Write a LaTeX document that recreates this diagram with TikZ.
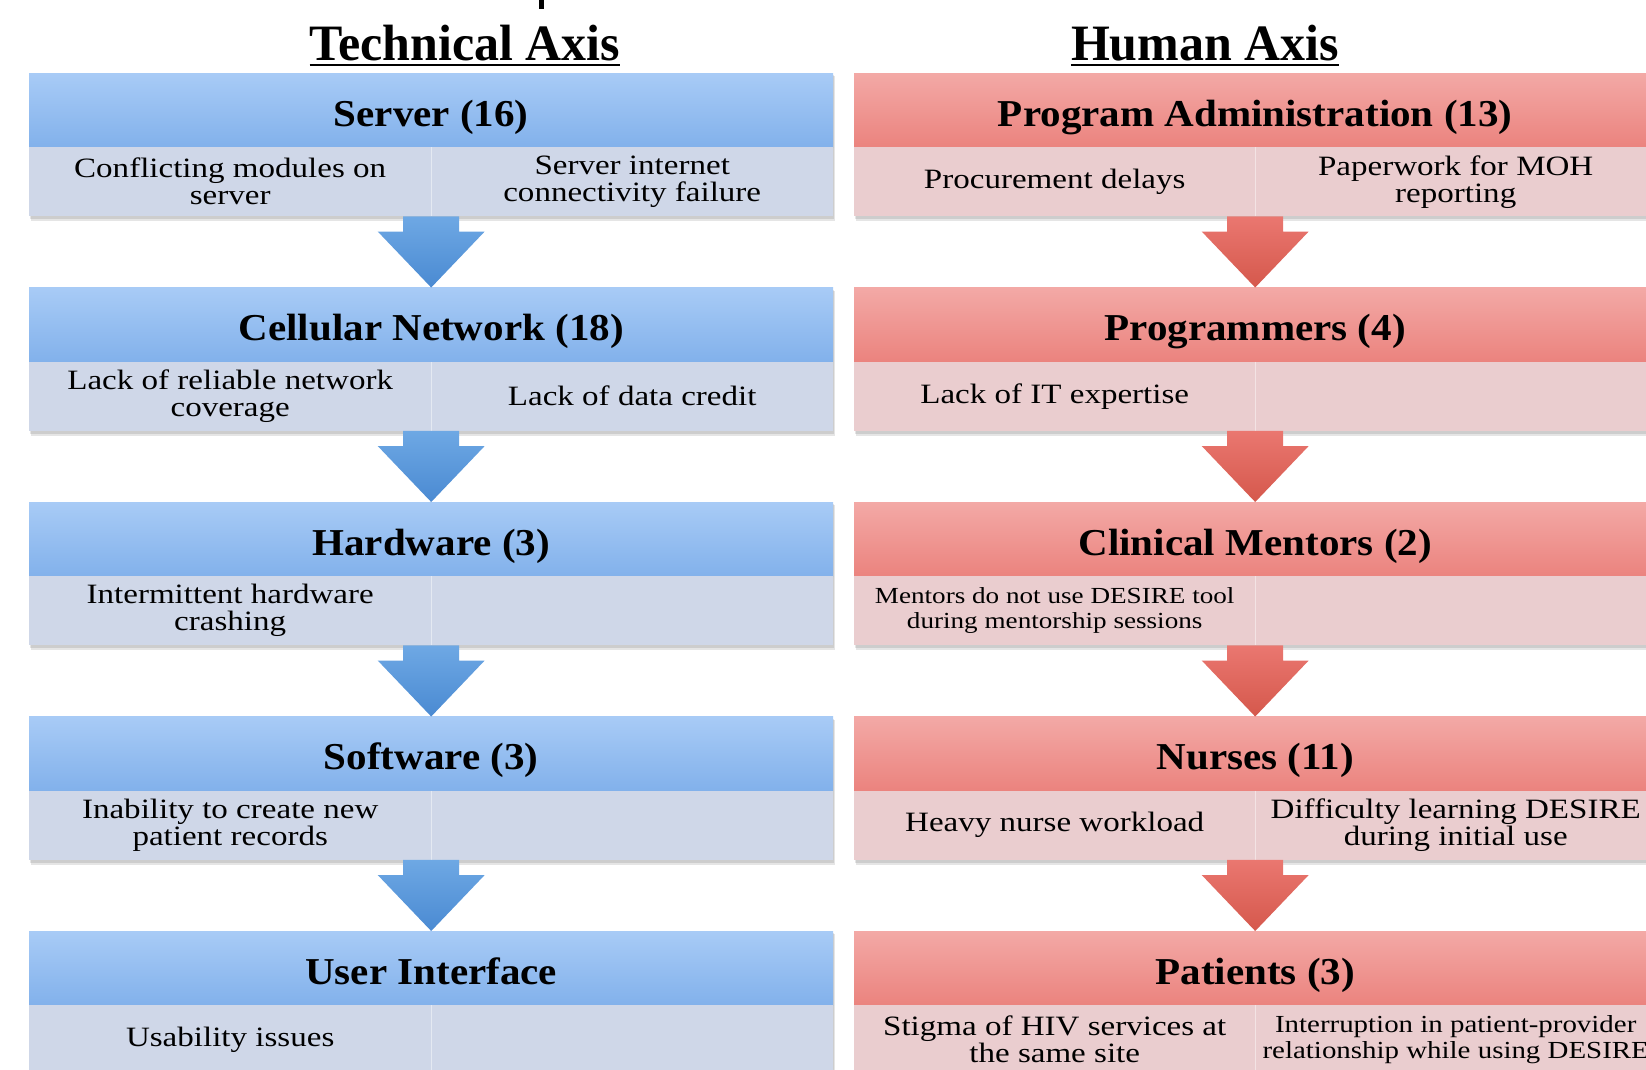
\documentclass[tikz,border=0pt]{standalone}
\usepackage{fontspec}
\setmainfont{Liberation Serif}
\newfontfamily\bodyface[FakeStretch=1.18]{Liberation Serif}
\newfontfamily\headface[FakeStretch=1.08]{Liberation Serif}
\newfontfamily\titleface[FakeStretch=0.98]{Liberation Serif}
\usetikzlibrary{calc}

\definecolor{techTop}{HTML}{A8CBF6}
\definecolor{techBot}{HTML}{82B1EB}
\definecolor{techBody}{HTML}{CFD7E8}
\definecolor{humTop}{HTML}{F3A9A6}
\definecolor{humBot}{HTML}{EB837E}
\definecolor{humBody}{HTML}{EACDCF}
\definecolor{techArrTop}{HTML}{6EA8E4}
\definecolor{techArrBot}{HTML}{4A8AD2}
\definecolor{humArrTop}{HTML}{EA7770}
\definecolor{humArrBot}{HTML}{D5584C}

\tikzset{
  axistitle/.style={inner sep=0pt, anchor=base, font=\titleface\bfseries\fontsize{51}{55}\selectfont},
  headbox/.style={rectangle, inner sep=0pt, anchor=north west,
    minimum height=74pt, text height=36pt, text depth=4pt,
    font=\headface\bfseries\fontsize{38}{40}\selectfont},
  techhead/.style={headbox, minimum width=804pt, top color=techTop, bottom color=techBot},
  humhead/.style={headbox, minimum width=802pt, top color=humTop, bottom color=humBot},
  cellbox/.style={rectangle, inner sep=0pt, anchor=north west, minimum height=69pt,
    align=center, font=\bodyface\fontsize{28}{27}\selectfont},
  techcell/.style={cellbox, minimum width=402pt, fill=techBody},
  humcell/.style={cellbox, minimum width=401pt, fill=humBody},
  smalltext/.style={font=\bodyface\fontsize{23}{25}\selectfont},
  smallertext/.style={font=\bodyface\fontsize{24.5}{26}\selectfont},
  divider/.style={white, opacity=.45, line width=1.5pt},
  techarrow/.style={top color=techArrTop, bottom color=techArrBot},
  humarrow/.style={top color=humArrTop, bottom color=humArrBot},
}

% soft shadow under a box: left x, right x, top y
\newcommand\boxshadow[3]{%
  \fill[black,opacity=.10] (#1+1,#3+2) rectangle (#2+1,#3+146);
  \fill[black,opacity=.10] (#1+2,#3+3) rectangle (#2+2,#3+148);}

% block arrow from the bottom of one box to the top of the next
\newcommand\flowarrow[3]{%
  \path[#3] let \p1=(#1.south), \p2=(#2.north) in
    (\x2-28pt,\y1) -- (\x2+28pt,\y1) -- (\x2+28pt,\y2+56pt) -- (\x2+53.5pt,\y2+56pt)
    -- (\x2,\y2) -- (\x2-53.5pt,\y2+56pt) -- (\x2-28pt,\y2+56pt) -- cycle;}

\begin{document}
\begin{tikzpicture}[x=1pt,y=-1pt]
\useasboundingbox (0,0) rectangle (1646,1069);
\clip (0,0) rectangle (1646,1069);
\fill[white] (0,0) rectangle (1646,1069);

% stray stroke at the top edge
\fill[black] (539,0) rectangle (544,9);

% column titles
\node[axistitle] (ttech) at (465,60) {Technical Axis};
\node[axistitle] (thum) at (1205,60) {Human Axis};
\draw[line width=2.5pt] ($(ttech.base west)+(0,5)$) -- ($(ttech.base east)+(0,5)$);
\draw[line width=2.5pt] ($(thum.base west)+(0,5)$) -- ($(thum.base east)+(0,5)$);

% shadows
\foreach \t in {73,287.5,502,716.5,931}{
  \boxshadow{29}{833}{\t}
  \boxshadow{854}{1656}{\t}
}

% ---------- technical axis ----------
\node[techhead] (srv) at (29,73) {Server (16)};
\node[techcell] (srvA) at (29,147) {Conflicting modules on\\server};
\node[techcell] (srvB) at (431,147) {Server internet\\connectivity failure};

\node[techhead] (cel) at (29,287.5) {Cellular Network (18)};
\node[techcell] (celA) at (29,361.5) {Lack of reliable network\\coverage};
\node[techcell] (celB) at (431,361.5) {Lack of data credit};

\node[techhead] (hw) at (29,502) {Hardware (3)};
\node[techcell] (hwA) at (29,576) {Intermittent hardware\\crashing};
\node[techcell] (hwB) at (431,576) {};

\node[techhead] (sw) at (29,716.5) {Software (3)};
\node[techcell] (swA) at (29,790.5) {Inability to create new\\patient records};
\node[techcell] (swB) at (431,790.5) {};

\node[techhead] (ui) at (29,931) {User Interface};
\node[techcell] (uiA) at (29,1005) {Usability issues};
\node[techcell] (uiB) at (431,1005) {};

% ---------- human axis ----------
\node[humhead] (adm) at (854,73) {Program Administration (13)};
\node[humcell] (admA) at (854,147) {Procurement delays};
\node[humcell] (admB) at (1255,147) {Paperwork for MOH\\reporting};

\node[humhead] (prg) at (854,287.5) {Programmers (4)};
\node[humcell] (prgA) at (854,361.5) {Lack of IT expertise};
\node[humcell] (prgB) at (1255,361.5) {};

\node[humhead] (men) at (854,502) {Clinical Mentors (2)};
\node[humcell, smalltext] (menA) at (854,576) {Mentors do not use DESIRE tool\\during mentorship sessions};
\node[humcell] (menB) at (1255,576) {};

\node[humhead] (nur) at (854,716.5) {Nurses (11)};
\node[humcell] (nurA) at (854,790.5) {Heavy nurse workload};
\node[humcell] (nurB) at (1255,790.5) {Difficulty learning DESIRE\\during initial use};

\node[humhead] (pat) at (854,931) {Patients (3)};
\node[humcell] (patA) at (854,1005) {Stigma of HIV services at\\the same site};
\node[humcell, smallertext] (patB) at (1255,1005) {Interruption in patient-provider\\relationship while using DESIRE};

% faint dividers between the two cells of each box
\foreach \c in {srvA,celA,hwA,swA,uiA,admA,prgA,menA,nurA,patA}{
  \draw[divider] (\c.north east) -- (\c.south east);
}

% arrows
\flowarrow{srvA}{cel}{techarrow}
\flowarrow{celA}{hw}{techarrow}
\flowarrow{hwA}{sw}{techarrow}
\flowarrow{swA}{ui}{techarrow}
\flowarrow{admA}{prg}{humarrow}
\flowarrow{prgA}{men}{humarrow}
\flowarrow{menA}{nur}{humarrow}
\flowarrow{nurA}{pat}{humarrow}
\end{tikzpicture}
\end{document}
